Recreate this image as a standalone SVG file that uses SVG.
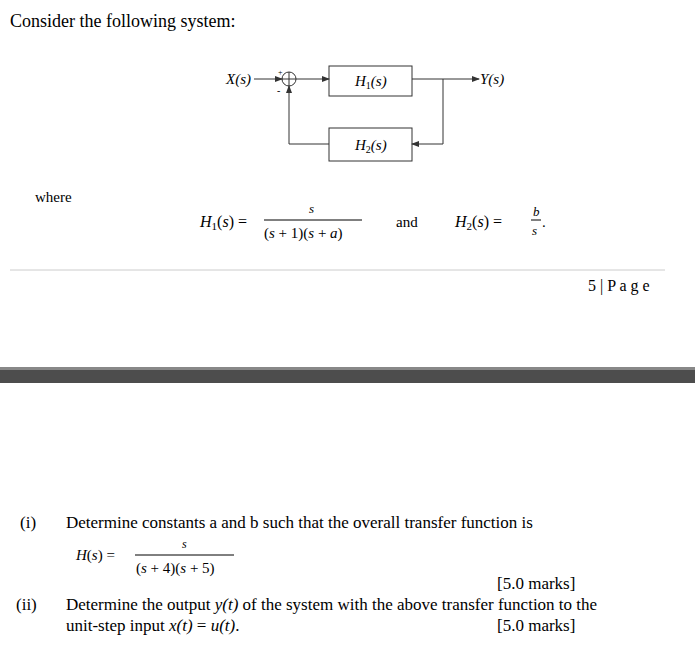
<svg xmlns="http://www.w3.org/2000/svg" width="695" height="648" viewBox="0 0 695 648">
<style>
.t{font-family:"Liberation Serif",serif;fill:#000}
.i{font-style:italic}
.b{fill:#fff;stroke:#333;stroke-width:1}
.l{stroke:#333;stroke-width:1;fill:none}
</style>
<defs><marker id="a" markerWidth="8" markerHeight="6" refX="7" refY="3" orient="auto"><path d="M0,0L8,3L0,6z" fill="#333"/></marker></defs>
<rect width="695" height="648" fill="#fff"/>
<text class="t" x="10" y="27" font-size="18">Consider the following system:</text>
<g id="sum"><circle cx="289" cy="79" r="7" class="b"/><path d="M282,79H296M289,72V86" class="l"/><text class="t" x="278" y="75" font-size="8">+</text><text class="t" x="277" y="94" font-size="10">-</text></g>
<g id="h1"><rect x="329" y="66" width="83" height="30" class="b"/><text class="t i" x="355" y="86" font-size="15">H<tspan font-size="10" font-style="normal" dy="3">1</tspan><tspan dy="-3">(s)</tspan></text></g>
<g id="h2"><rect x="329" y="128" width="83" height="33" class="b"/><text class="t i" x="355" y="150" font-size="15">H<tspan font-size="10" font-style="normal" dy="3">2</tspan><tspan dy="-3">(s)</tspan></text></g>
<g id="x"><text class="t i" x="226" y="84" font-size="15">X(s)</text></g>
<g id="y"><text class="t i" x="480" y="84" font-size="15">Y(s)</text></g>
<g id="connectors">
<path d="M254,79H282" class="l" marker-end="url(#a)"/>
<path d="M296,79H329" class="l" marker-end="url(#a)"/>
<path d="M412,79H479" class="l" marker-end="url(#a)"/>
<path d="M443,79V144H412" class="l" marker-end="url(#a)"/>
<path d="M329,144H289V86" class="l" marker-end="url(#a)"/>
</g>
<text class="t" x="35" y="202" font-size="15">where</text>
<text class="t" x="200" y="227" font-size="16"><tspan font-style="italic">H</tspan><tspan font-size="11" dy="3">1</tspan><tspan dy="-3">(</tspan><tspan font-style="italic">s</tspan>) =</text>
<text class="t i" x="309" y="213" font-size="13">s</text>
<line x1="264" y1="220" x2="362" y2="220" stroke="#000"/>
<text class="t" x="264" y="238" font-size="15">(<tspan font-style="italic">s</tspan> + 1)(<tspan font-style="italic">s</tspan> + <tspan font-style="italic">a</tspan>)</text>
<text class="t" x="396" y="227" font-size="15">and</text>
<text class="t" x="455" y="227" font-size="16"><tspan font-style="italic">H</tspan><tspan font-size="11" dy="3">2</tspan><tspan dy="-3">(</tspan><tspan font-style="italic">s</tspan>) =</text>
<text class="t i" x="533" y="216" font-size="13">b</text>
<line x1="531" y1="220" x2="541" y2="220" stroke="#000"/>
<text class="t i" x="532" y="235" font-size="13">s</text>
<text class="t" x="542" y="227" font-size="15">.</text>
<line x1="10" y1="270" x2="665" y2="270" stroke="#ccc"/>
<text class="t" x="588" y="291" font-size="16">5 | P a g e</text>
<rect x="0" y="369" width="695" height="14" fill="#4d4d4d"/>
<rect x="0" y="367" width="695" height="3" fill="#888"/>
<text class="t" x="20" y="528" font-size="17">(i)</text>
<text class="t" x="66" y="528" font-size="17">Determine constants a and b such that the overall transfer function is</text>
<text class="t" x="76" y="560" font-size="15"><tspan font-style="italic">H</tspan>(<tspan font-style="italic">s</tspan>) =</text>
<text class="t i" x="182" y="548" font-size="12">s</text>
<line x1="135" y1="555" x2="234" y2="555" stroke="#000"/>
<text class="t" x="136" y="573" font-size="15">(<tspan font-style="italic">s</tspan> + 4)(<tspan font-style="italic">s</tspan> + 5)</text>
<text class="t" x="497" y="589" font-size="17">[5.0 marks]</text>
<text class="t" x="16" y="610" font-size="17">(ii)</text>
<text class="t" x="66" y="610" font-size="17">Determine the output <tspan font-style="italic">y(t)</tspan> of the system with the above transfer function to the</text>
<text class="t" x="66" y="631" font-size="17">unit-step input <tspan font-style="italic">x(t)</tspan> = <tspan font-style="italic">u(t)</tspan>.</text>
<text class="t" x="497" y="631" font-size="17">[5.0 marks]</text>
</svg>
